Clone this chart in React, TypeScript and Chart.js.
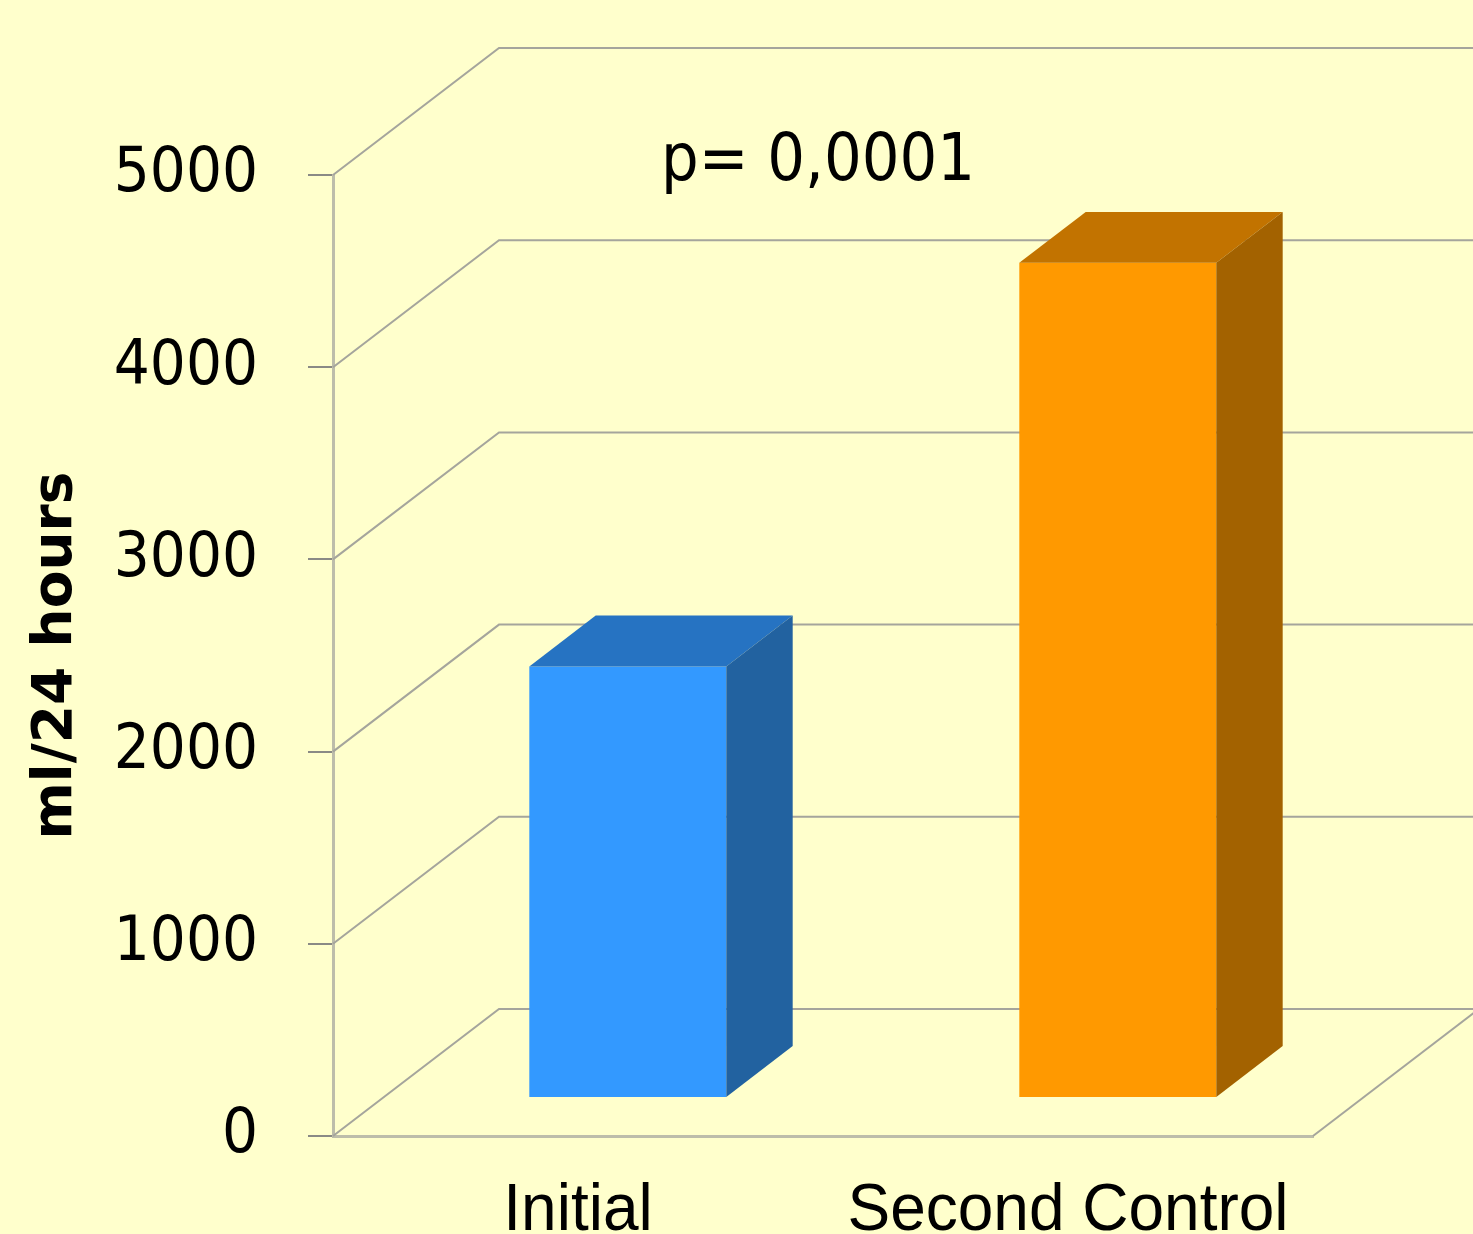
import React, { useEffect, useRef } from "react";
import { Chart, registerables } from "chart.js";

Chart.register(...registerables);

// Daily volume per measurement (ml/24 hours)
const categories = ["Initial", "Second Control"];
const volumes = [2245, 4345];
const frontColors = ["#3399FF", "#FF9900"];
const topColors = ["#2673C2", "#C27300"];
const sideColors = ["#2262A0", "#A36200"];
const yTicks = [0, 1000, 2000, 3000, 4000, 5000];
const axisTitle = "ml/24 hours";
const annotation = "p= 0,0001";

// Pseudo-3D geometry: full depth of the plot box, and the slab the bars occupy
const DEPTH = { x: 166, y: -127 };
const BAR_NEAR = 0.3;
const BAR_FAR = 0.7;

const FONT = '"DejaVu Sans Condensed", "DejaVu Sans", sans-serif';
const TITLE_FONT = '"DejaVu Sans", sans-serif';
const LABEL_FONT = '"Liberation Sans", Arial, sans-serif';

const boxPlugin = {
  id: "box3d",
  beforeDatasetsDraw(chart: any) {
    const { ctx, chartArea: a, scales } = chart;
    const y = scales.y;
    ctx.save();
    ctx.strokeStyle = "#A5A59C";
    ctx.lineWidth = 2;
    for (const v of yTicks) {
      const py = y.getPixelForValue(v);
      ctx.beginPath();
      ctx.moveTo(a.left, py);
      ctx.lineTo(a.left + DEPTH.x, py + DEPTH.y);
      ctx.lineTo(a.right + DEPTH.x, py + DEPTH.y);
      ctx.stroke();
    }
    // right edge of the floor
    ctx.beginPath();
    ctx.moveTo(a.right, a.bottom);
    ctx.lineTo(a.right + DEPTH.x, a.bottom + DEPTH.y);
    ctx.stroke();
    ctx.restore();
    // push the bar fronts back into the box
    ctx.save();
    ctx.translate(DEPTH.x * BAR_NEAR, DEPTH.y * BAR_NEAR);
  },
  afterDatasetsDraw(chart: any) {
    const ctx = chart.ctx;
    ctx.restore();
    const ox = DEPTH.x * BAR_NEAR;
    const oy = DEPTH.y * BAR_NEAR;
    const dx = DEPTH.x * (BAR_FAR - BAR_NEAR);
    const dy = DEPTH.y * (BAR_FAR - BAR_NEAR);
    const meta = chart.getDatasetMeta(0);
    ctx.save();
    meta.data.forEach((bar: any, i: number) => {
      const { x, y, base, width } = bar.getProps(["x", "y", "base", "width"], true);
      const l = x - width / 2 + ox;
      const r = x + width / 2 + ox;
      const t = y + oy;
      const b = base + oy;
      ctx.fillStyle = topColors[i];
      ctx.beginPath();
      ctx.moveTo(l, t);
      ctx.lineTo(l + dx, t + dy);
      ctx.lineTo(r + dx, t + dy);
      ctx.lineTo(r, t);
      ctx.closePath();
      ctx.fill();
      ctx.fillStyle = sideColors[i];
      ctx.beginPath();
      ctx.moveTo(r, t);
      ctx.lineTo(r + dx, t + dy);
      ctx.lineTo(r + dx, b + dy);
      ctx.lineTo(r, b);
      ctx.closePath();
      ctx.fill();
    });
    ctx.fillStyle = "#000";
    ctx.font = `66px ${FONT}`;
    ctx.textAlign = "center";
    ctx.textBaseline = "alphabetic";
    ctx.fillText(annotation, 818, 180);

    // slightly narrowed category labels under the floor
    const xs = chart.scales.x;
    ctx.font = `67px ${LABEL_FONT}`;
    categories.forEach((label, i) => {
      ctx.save();
      ctx.translate(xs.getPixelForValue(i), chart.chartArea.bottom + 94);
      ctx.scale(0.955, 1);
      ctx.fillText(label, 0, 0);
      ctx.restore();
    });
    ctx.restore();
  },
};

export default function App() {
  const canvasRef = useRef<HTMLCanvasElement | null>(null);

  useEffect(() => {
    const canvas = canvasRef.current;
    if (!canvas) return;
    const chart = new Chart(canvas, {
      type: "bar",
      data: {
        labels: categories,
        datasets: [
          {
            data: volumes,
            backgroundColor: frontColors,
            borderWidth: 0,
            categoryPercentage: 1,
            barPercentage: 0.402,
            clip: false as any,
          },
        ],
      },
      plugins: [boxPlugin],
      options: {
        animation: false,
        responsive: false,
        layout: { padding: { top: 175, right: 160, bottom: 0, left: 0 } },
        plugins: { legend: { display: false }, tooltip: { enabled: false } },
        scales: {
          x: {
            afterFit: (s: any) => {
              s.height = 98;
            },
            grid: { display: false, drawTicks: false },
            border: { display: true, color: "#BDBDAA", width: 3 },
            ticks: { display: false, autoSkip: false },
          },
          y: {
            min: 0,
            max: 5000,
            afterFit: (s: any) => {
              s.width = 333;
            },
            afterBuildTicks: (s: any) => {
              s.ticks = yTicks.map((v) => ({ value: v }));
            },
            grid: {
              drawOnChartArea: false,
              drawTicks: true,
              tickLength: 25,
              tickColor: "#8A8A85",
              lineWidth: 2,
            },
            border: { display: true, color: "#BDBDAA", width: 3 },
            ticks: {
              color: "#000",
              padding: 50,
              font: { family: FONT, size: 63 },
              callback: (v: any) => String(v),
            },
            title: {
              display: true,
              text: axisTitle,
              color: "#000",
              padding: { top: 24, bottom: 0 },
              font: { family: TITLE_FONT, size: 55, weight: "bold" },
            },
          },
        },
      },
    });
    return () => chart.destroy();
  }, []);

  return (
    <div
      style={{
        position: "fixed",
        left: 0,
        top: 0,
        width: 1473,
        height: 1234,
        background: "#FFFFCC",
        overflow: "hidden",
      }}
    >
      <canvas ref={canvasRef} width={1473} height={1234} style={{ display: "block" }} />
    </div>
  );
}
